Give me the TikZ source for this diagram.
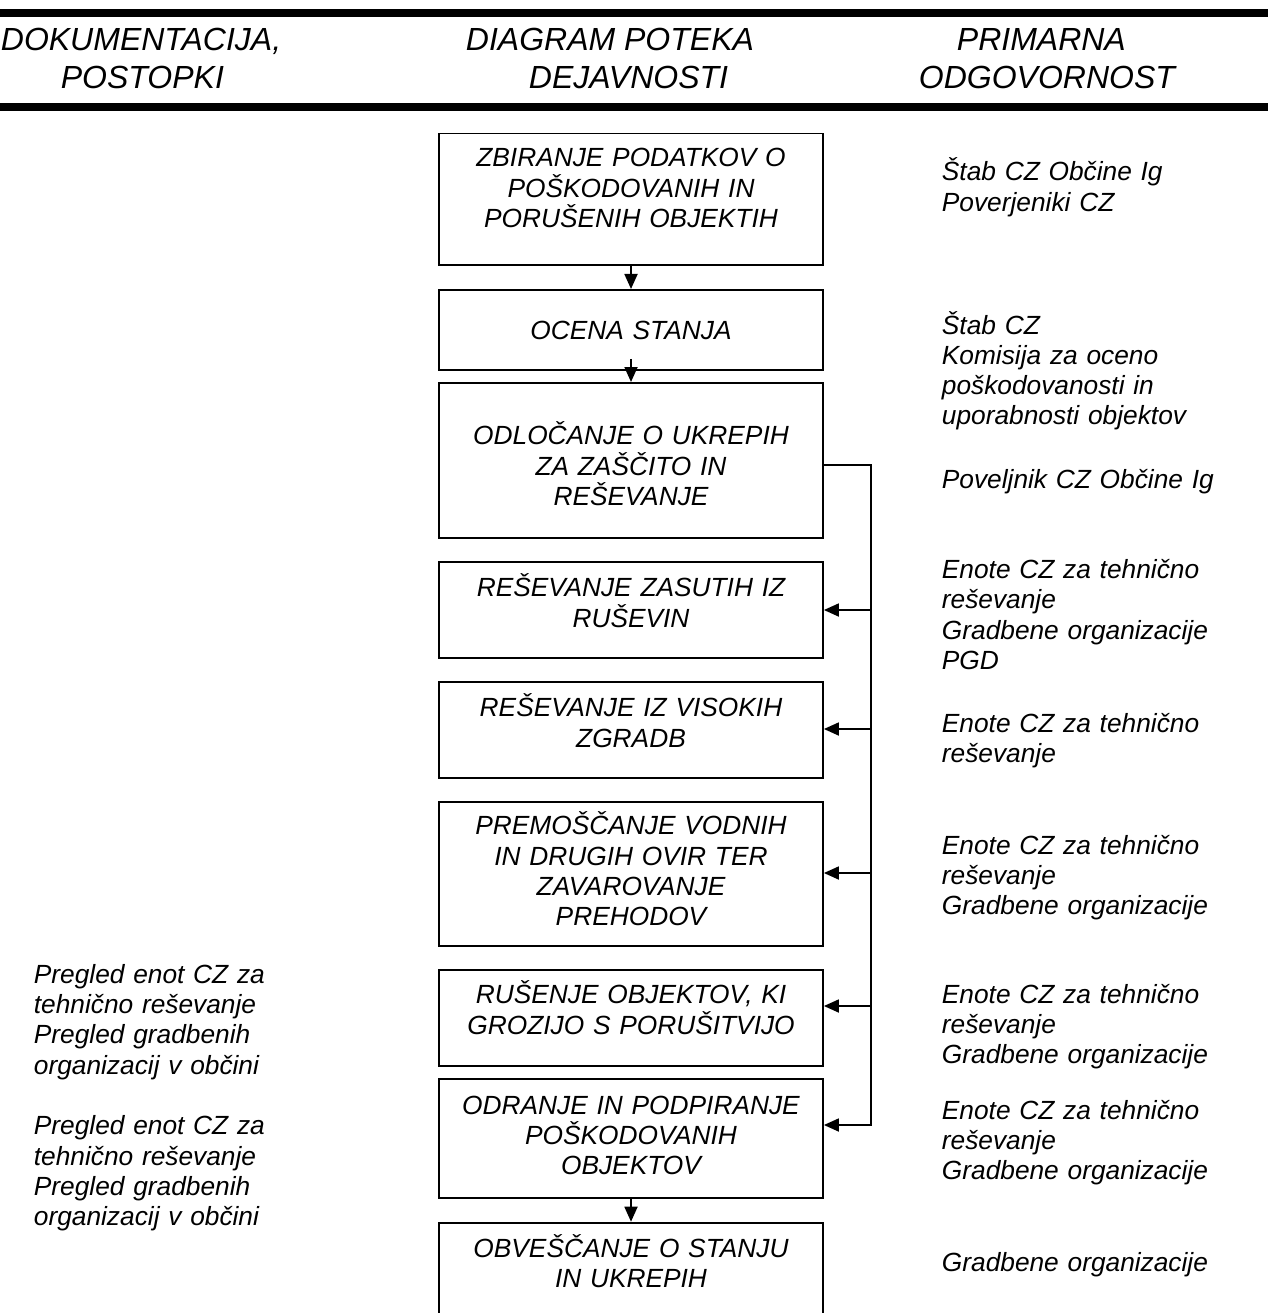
\documentclass[tikz,border=0pt]{standalone}
\usepackage{fontspec}
\setmainfont{Liberation Sans}
\usetikzlibrary{arrows.meta}

\begin{document}
\begin{tikzpicture}[x=1pt,y=-1pt,
        font=\itshape\fontsize{26.3}{30.3}\selectfont,line width=1.8pt,
        box/.style={draw,inner xsep=7pt,inner ysep=0pt,text width=370pt,align=center,anchor=north},
        note/.style={inner sep=0pt,text width=320pt,align=left,anchor=base west},
        head/.style={inner sep=0pt,anchor=base west,font=\itshape\fontsize{32}{38}\selectfont},
        tip/.style={-{Triangle[length=15pt,width=13pt]}}]

    \clip (0,0) rectangle (1268,1313);

    % header
    \draw[line width=8pt] (0,13) -- (1268,13);
    \draw[line width=8pt] (0,107) -- (1268,107);
    \node[head] (h1a) at (0,51)   {DOKUMENTACIJA,};
    \node[head] (h1b) at (60,89)  {POSTOPKI};
    \node[head] (h2a) at (465,51) {DIAGRAM POTEKA};
    \node[head] (h2b) at (528,89) {DEJAVNOSTI};
    \node[head] (h3a) at (956,51) {PRIMARNA};
    \node[head] (h3b) at (918,89) {ODGOVORNOST};

    % steps
    \node[box,text height=33.3pt,text depth=98.3pt] (b1) at (631,132.7) {ZBIRANJE PODATKOV O\\POŠKODOVANIH IN\\PORUŠENIH OBJEKTIH};
    \node[box,text height=49.3pt,text depth=30.7pt] (b2) at (631,289) {OCENA STANJA};
    \node[box,text height=62pt,text depth=92.7pt] (b3) at (631,382) {ODLOČANJE O UKREPIH\\ZA ZAŠČITO IN\\REŠEVANJE};
    \node[box,text height=35pt,text depth=61.3pt] (b4) at (631,561) {REŠEVANJE ZASUTIH IZ\\RUŠEVIN};
    \node[box,text height=35pt,text depth=60.7pt] (b5) at (631,681) {REŠEVANJE IZ VISOKIH\\ZGRADB};
    \node[box,text height=33pt,text depth=111pt] (b6) at (631,801) {PREMOŠČANJE VODNIH\\IN DRUGIH OVIR TER\\ZAVAROVANJE\\PREHODOV};
    \node[box,text height=33.7pt,text depth=61.7pt] (b7) at (631,969.3) {RUŠENJE OBJEKTOV, KI\\GROZIJO S PORUŠITVIJO};
    \node[box,text height=35.6pt,text depth=84pt] (b8) at (631,1077.7) {ODRANJE IN PODPIRANJE\\POŠKODOVANIH\\OBJEKTOV};
    \node[box,text height=35pt,text depth=90pt] (b9) at (631,1221.7) {OBVEŠČANJE O STANJU\\IN UKREPIH};

    \draw[tip] (b1.south) -- (b2.north);
    \draw[tip] ([yshift=12pt]b2.south) -- (b3.north);
    \draw[tip] (b8.south) -- (b9.north);

    % branches to the right
    \coordinate (t3) at (871,465);
    \coordinate (t4) at (871,610);
    \coordinate (t5) at (871,729);
    \coordinate (t6) at (871,873);
    \coordinate (t7) at (871,1006);
    \coordinate (t8) at (871,1125);
    \draw[tip] (t3 -| b3.east) -- (t3) -- (t8) -- (t8 -| b8.east);
    \foreach \n in {4,...,7}
        \draw[tip] (t\n) -- (t\n -| b\n.east);

    % responsibility
    \node[note] (r1) at (941,181) {Štab CZ Občine Ig\\Poverjeniki CZ};
    \node[note] (r2) at (941,334) {Štab CZ\\Komisija za oceno\\poškodovanosti in\\uporabnosti objektov};
    \node[note] (r3) at (941,488) {Poveljnik CZ Občine Ig};
    \node[note] (r4) at (941,578.5) {Enote CZ za tehnično\\reševanje\\Gradbene organizacije\\PGD};
    \node[note] (r5) at (941,732.5) {Enote CZ za tehnično\\reševanje};
    \node[note] (r6) at (941,854) {Enote CZ za tehnično\\reševanje\\Gradbene organizacije};
    \node[note] (r7) at (941,1003) {Enote CZ za tehnično\\reševanje\\Gradbene organizacije};
    \node[note] (r8) at (941,1119) {Enote CZ za tehnično\\reševanje\\Gradbene organizacije};
    \node[note] (r9) at (941,1271) {Gradbene organizacije};

    % documents
    \node[note] (l1) at (33,983.3) {Pregled enot CZ za\\tehnično reševanje\\Pregled gradbenih\\organizacij v občini};
    \node[note] (l2) at (33,1134.8) {Pregled enot CZ za\\tehnično reševanje\\Pregled gradbenih\\organizacij v občini};
\end{tikzpicture}
\end{document}
